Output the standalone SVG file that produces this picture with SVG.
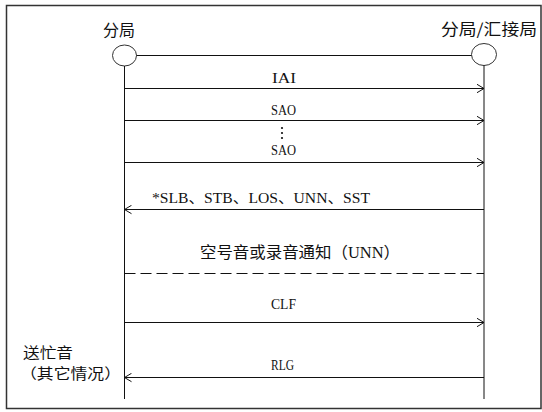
<svg xmlns="http://www.w3.org/2000/svg" width="542" height="412" viewBox="0 0 542 412">
<style>
.cn{font-family:"Noto Sans CJK SC","Noto Sans",sans-serif;font-size:16px;fill:#111}
.sm{font-size:14.5px}
.lt{font-family:"Liberation Serif","Noto Sans CJK SC",serif;font-size:15px;fill:#111}
.ser{font-family:"Liberation Serif",serif}
.ln{stroke:#111;stroke-width:1;fill:none}
.node{fill:#fff;stroke:#333;stroke-width:1}
</style>
<defs>
<marker id="ah" viewBox="0 0 8 10" refX="7.5" refY="5" markerWidth="8" markerHeight="10" markerUnits="userSpaceOnUse" orient="auto">
<path d="M0.5,0.8 L7.5,5 L0.5,9.2" fill="none" stroke="#111" stroke-width="1"/>
</marker>
</defs>
<rect x="6.5" y="5.5" width="534.5" height="403" fill="#fff" stroke="#333" stroke-width="1.5"/>
<g id="node-left">
<text class="cn" x="103" y="36">分局</text>
<ellipse class="node" cx="124.5" cy="55.5" rx="12" ry="10.5"/>
</g>
<g id="node-right">
<text class="cn" x="441" y="35" textLength="96" lengthAdjust="spacingAndGlyphs">分局/汇接局</text>
<ellipse class="node" cx="484" cy="54.5" rx="12.5" ry="11"/>
</g>
<g id="connectors">
<line class="ln" x1="136.5" y1="55.5" x2="471.5" y2="55.5"/>
<line class="ln" x1="124.5" y1="66" x2="124.5" y2="399"/>
<line class="ln" x1="484" y1="65.5" x2="484" y2="399"/>
<line class="ln" x1="124.5" y1="88.5" x2="484" y2="88.5" marker-end="url(#ah)"/>
<line class="ln" x1="124.5" y1="120.5" x2="484" y2="120.5" marker-end="url(#ah)"/>
<line class="ln" x1="124.5" y1="162.5" x2="484" y2="162.5" marker-end="url(#ah)"/>
<line class="ln" x1="484" y1="209.5" x2="124.5" y2="209.5" marker-end="url(#ah)"/>
<line class="ln" x1="124.5" y1="273.5" x2="484" y2="273.5" stroke-dasharray="11,5"/>
<line class="ln" x1="124.5" y1="322.5" x2="484" y2="322.5" marker-end="url(#ah)"/>
<line class="ln" x1="484" y1="377.5" x2="124.5" y2="377.5" marker-end="url(#ah)"/>
</g>
<g id="labels">
<text class="lt" x="272" y="83" textLength="24" lengthAdjust="spacingAndGlyphs">IAI</text>
<text class="lt" x="271" y="115" textLength="25" lengthAdjust="spacingAndGlyphs">SAO</text>
<circle cx="282" cy="128" r="1.1" fill="#111"/>
<circle cx="282" cy="133" r="1.1" fill="#111"/>
<circle cx="282" cy="138" r="1.1" fill="#111"/>
<text class="lt" x="271" y="155" textLength="25" lengthAdjust="spacingAndGlyphs">SAO</text>
<text class="lt" x="152" y="203" textLength="218" lengthAdjust="spacingAndGlyphs">*SLB、STB、LOS、UNN、SST</text>
<text class="cn" x="200" y="258" textLength="200" lengthAdjust="spacingAndGlyphs">空号音或录音通知（<tspan class="ser">UNN</tspan>）</text>
<text class="lt" x="271" y="309" textLength="25" lengthAdjust="spacingAndGlyphs">CLF</text>
<text class="lt" x="271" y="370" textLength="23" lengthAdjust="spacingAndGlyphs">RLG</text>
<text class="cn sm" x="23" y="358" textLength="50" lengthAdjust="spacingAndGlyphs">送忙音</text>
<text class="cn sm" x="20" y="379" textLength="101" lengthAdjust="spacingAndGlyphs">（其它情况）</text>
</g>
</svg>
